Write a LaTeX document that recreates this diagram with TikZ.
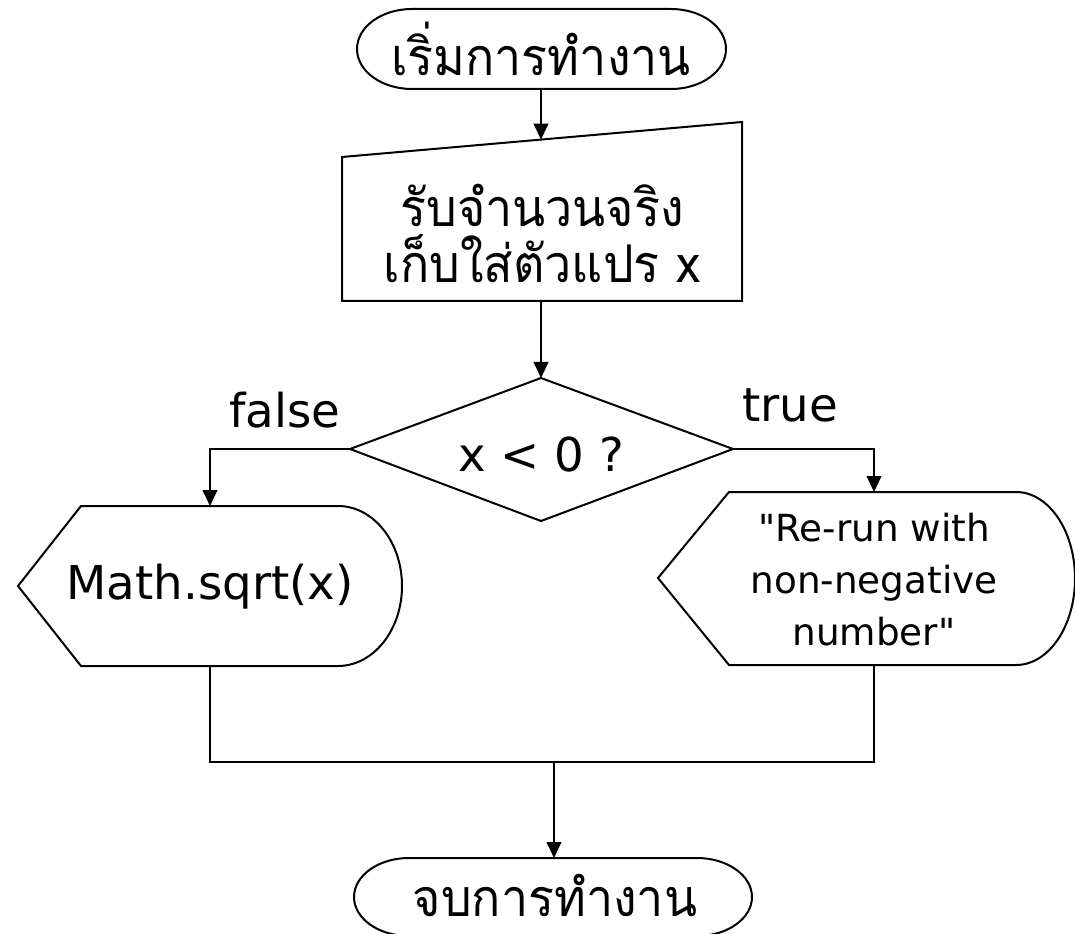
\documentclass[tikz,border=0pt]{standalone}
\usepackage{fontspec}
\setmainfont[Ligatures=TeXOff]{DejaVu Sans}
\newfontfamily\thaifont[Script=Thai,FakeStretch=0.93]{Loma}
\usetikzlibrary{arrows.meta}
\tikzset{
  shapeline/.style={draw=black, line width=1.5pt, line join=miter},
  conn/.style={draw=black, line width=1.5pt},
  arr/.style={conn, -{Triangle[length=12pt,width=11pt]}},
  bigtxt/.style={inner sep=0pt, align=center, font=\fontsize{35}{46}\selectfont},
  thaitxt/.style={inner sep=0pt, align=center, font=\thaifont\fontsize{39}{42}\selectfont},
  smalltxt/.style={inner sep=0pt, align=center, font=\fontsize{28}{39}\selectfont},
}
\begin{document}
\begin{tikzpicture}[x=0.75pt, y=-0.75pt]
\useasboundingbox (0,0) rectangle (1075,934);
% ---- start terminal
\draw[shapeline] (412,9) -- (671,9) .. controls (701.4,9) and (726,26.9) .. (726,49)
  .. controls (726,71.1) and (701.4,89) .. (671,89) -- (412,89)
  .. controls (381.6,89) and (357,71.1) .. (357,49)
  .. controls (357,26.9) and (381.6,9) .. cycle;
\node[thaitxt] (start) at (541,49) {เริ่มการทำงาน};
\coordinate (startB) at (541,89);
% ---- manual input
\draw[shapeline] (342,157) -- (742,122) -- (742,301) -- (342,301) -- cycle;
\node[thaitxt] (input) at (542,233) {รับจำนวนจริง\\เก็บใส่ตัวแปร x};
\coordinate (inT) at (541,139.6);
\coordinate (inB) at (541,301);
% ---- decision
\draw[shapeline] (541,378) -- (733,449) -- (541,521) -- (350,449) -- cycle;
\node[bigtxt] (dec) at (541,455) {x < 0 ?};
\coordinate (decT) at (541,378);
\coordinate (decL) at (350,449);
\coordinate (decR) at (733,449);
\node[bigtxt] (false) at (285,410) {false};
\node[bigtxt] (true) at (790,405) {true};
% ---- left display
\draw[shapeline] (18,586) -- (81,506) -- (338,506)
  .. controls (373.3,506) and (402,541.8) .. (402,586)
  .. controls (402,630.2) and (373.3,666) .. (338,666) -- (81,666) -- cycle;
\node[bigtxt] (sqrt) at (210,587) {Math.sqrt(x)};
\coordinate (sqT) at (210,506);
\coordinate (sqB) at (210,666);
% ---- right display
\draw[shapeline] (658,578) -- (729,492) -- (1016,492)
  .. controls (1048.6,492) and (1075,530.7) .. (1075,578.5)
  .. controls (1075,626.3) and (1048.6,665) .. (1016,665) -- (729,665) -- cycle;
\node[smalltxt] (msg) at (874,580) {"Re-run with\\non-negative\\number"};
\coordinate (msT) at (874,492);
\coordinate (msB) at (874,665);
% ---- merge
\coordinate (mL) at (210,762);
\coordinate (mR) at (874,762);
\coordinate (mC) at (554,762);
% ---- end terminal
\draw[shapeline] (409,858) -- (697,858) .. controls (727.4,858) and (752,875.5) .. (752,897)
  .. controls (752,918.5) and (727.4,936) .. (697,936) -- (409,936)
  .. controls (378.6,936) and (354,918.5) .. (354,897)
  .. controls (354,875.5) and (378.6,858) .. cycle;
\node[thaitxt] (end) at (555,895) {จบการทำงาน};
\coordinate (endT) at (554,858);
% ---- connectors
\draw[arr] (startB) -- (inT);
\draw[arr] (inB) -- (decT);
\draw[arr] (decL) -| (sqT);
\draw[arr] (decR) -| (msT);
\draw[conn] (sqB) |- (mR) -- (msB);
\draw[arr] (mC) -- (endT);
\end{tikzpicture}
\end{document}
